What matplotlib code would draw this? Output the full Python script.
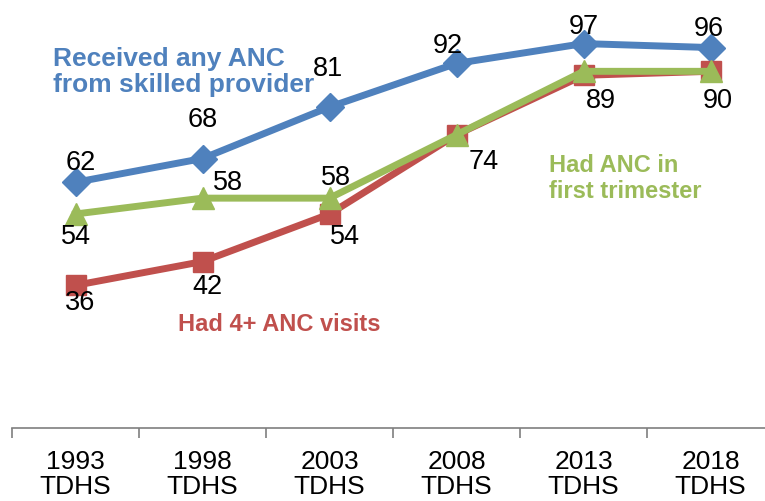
import matplotlib
matplotlib.use("Agg")
import matplotlib.pyplot as plt
from matplotlib.ticker import FixedLocator

plt.rcParams['font.family'] = ['Liberation Sans', 'DejaVu Sans']

surveys = ['1993\nTDHS', '1998\nTDHS', '2003\nTDHS', '2008\nTDHS', '2013\nTDHS', '2018\nTDHS']
skilled = [62, 68, 81, 92, 97, 96]
four_visits = [36, 42, 54, 74, 89, 90]
first_trim = [54, 58, 58, 74, 90, 90]

# label offsets in pixels (None = no label)
skilled_off = [(5, 19), (0, 39), (-2, 38), (-9, 17), (0, 17), (-2, 19)]
four_off = [(5, -18), (5, -25), (15, -23), (27, -27), (17, -26), (7, -30)]
trim_off = [(0, -23), (25, 15), (6, 20), None, None, None]

blue = '#4F81BD'
red = '#C0504D'
green = '#9BBB59'

fig = plt.figure(figsize=(7.65, 5.01), dpi=100)
ax = fig.add_axes([12/765, 73/501, 762/765, 428/501])
x = list(range(len(surveys)))

ax.plot(x, skilled, color=blue, lw=5, marker='D', ms=14, zorder=3)
ax.plot(x, four_visits, color=red, lw=5, marker='s', ms=15, zorder=4)
ax.plot(x, first_trim, color=green, lw=5, marker='^', ms=16, zorder=5)

for vals, offs in [(skilled, skilled_off), (four_visits, four_off), (first_trim, trim_off)]:
    for i, v in enumerate(vals):
        if offs[i] is None:
            continue
        ax.annotate(str(v), (i, v), xytext=offs[i], textcoords='offset pixels',
                    ha='center', va='center', fontsize=19.5, color='black', zorder=6)

ax.text(-0.177, 89.8, 'Received any ANC\nfrom skilled provider', color=blue,
        fontsize=19, fontweight='bold', ha='left', va='center', linespacing=1.12)
ax.text(0.807, 26.0, 'Had 4+ ANC visits', color=red,
        fontsize=17, fontweight='bold', ha='left', va='center')
ax.text(3.728, 63.0, 'Had ANC in\nfirst trimester', color=green,
        fontsize=17, fontweight='bold', ha='left', va='center', linespacing=1.18)

ax.set_xlim(-0.5, 5.5)
ax.set_ylim(0, 108)
ax.set_xticks(x)
ax.set_xticklabels(surveys, fontsize=19, linespacing=1.02)
ax.xaxis.set_minor_locator(FixedLocator([i - 0.5 for i in range(len(surveys) + 1)]))
ax.tick_params(axis='x', which='major', length=0, pad=16)
ax.tick_params(axis='x', which='minor', length=7, width=1.2, color='#7f7f7f')
ax.set_yticks([])
for s in ['top', 'right', 'left']:
    ax.spines[s].set_visible(False)
ax.spines['bottom'].set_color('#7f7f7f')
ax.spines['bottom'].set_linewidth(1.2)
ax.patch.set_alpha(0)

fig.savefig('out.png', dpi=100)
